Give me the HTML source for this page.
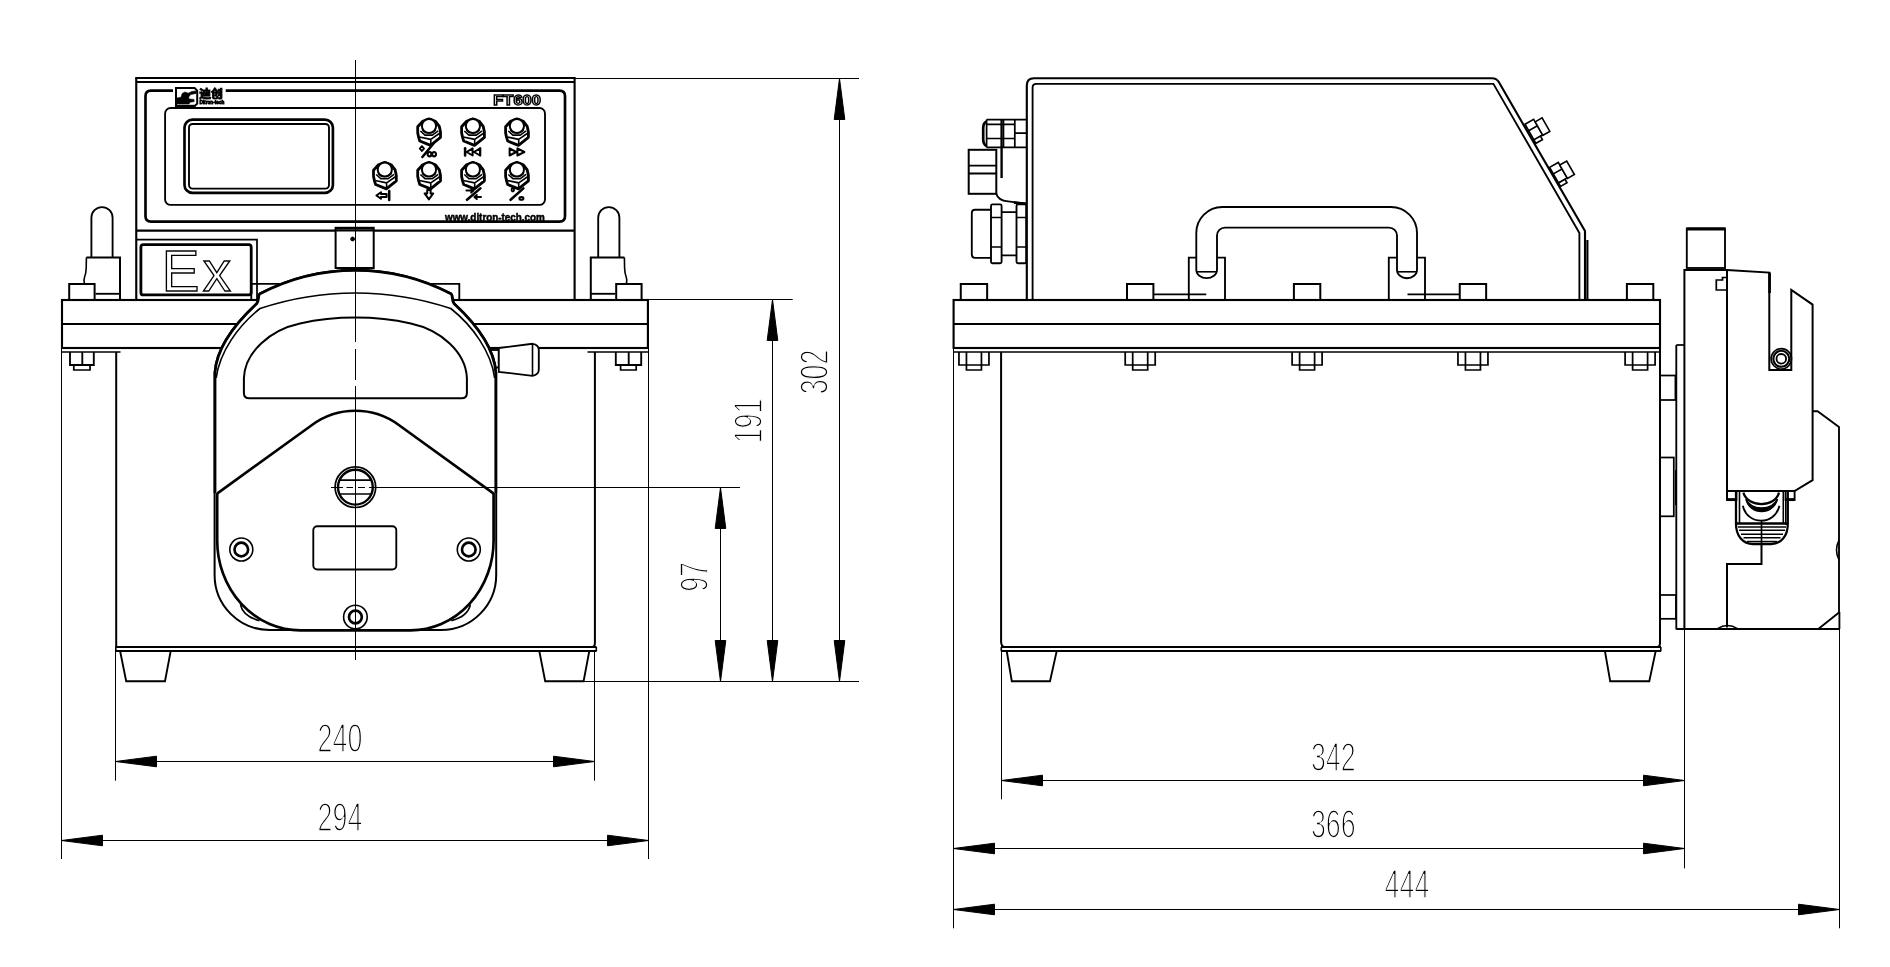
<!DOCTYPE html>
<html lang="zh">
<head>
<meta charset="utf-8">
<title>FT600 防爆蠕动泵 外形尺寸图</title>
<style>
html,body{margin:0;padding:0;background:#fff;}
body{width:1890px;height:967px;overflow:hidden;}
svg{display:block;filter:grayscale(1);}
svg{background:#fff;}
svg *{stroke:#000;}
text{stroke:none;fill:#000;font-family:"Liberation Sans",sans-serif;}
text.dim{font-size:40px;fill:#000;stroke:#fff;stroke-width:1.7px;paint-order:normal;}
text.cjk{font-family:"Liberation Sans","Noto Sans CJK SC",sans-serif;font-weight:bold;font-size:11px;stroke:#000;stroke-width:0.9px;}
text.tiny{font-weight:bold;font-size:5.8px;stroke:#000;stroke-width:0.8px;}
text.model{font-weight:bold;font-size:14px;fill:#fff;stroke:#000;stroke-width:1.3px;}
text.url{font-weight:bold;font-size:10px;stroke:#000;stroke-width:0.5px;}
text.ex{font-size:56.5px;fill:#fff;stroke:#000;stroke-width:1.35px;}
</style>
</head>
<body>
<svg width="1890" height="967" viewBox="0 0 1890 967">
<line x1="136.25" y1="77.5" x2="136.25" y2="299.5" stroke-width="2.13"/>
<line x1="574.6" y1="77.5" x2="574.6" y2="299.5" stroke-width="2.13"/>
<line x1="135.3" y1="78" x2="575.5" y2="78" stroke-width="2.0"/>
<line x1="136" y1="82" x2="575" y2="82" stroke-width="2.0"/>
<line x1="136" y1="230.6" x2="575" y2="230.6" stroke-width="2.13"/>
<path d="M173,90.6 L151,90.6 Q145.5,90.6 145.5,96 L145.5,216.2 Q145.5,221.6 151,221.6 L559.5,221.6 Q565,221.6 565,216.2 L565,96 Q565,90.6 559.5,90.6 L225.7,90.6" stroke-width="2.66" fill="none"/>
<rect x="165.1" y="108" width="379.9" height="96.9" rx="5.5" ry="5.5" stroke-width="1.86" fill="none"/>
<rect x="184.5" y="119.6" width="148.4" height="73.3" rx="8" ry="8" stroke-width="2.66" fill="none"/>
<rect x="189" y="124" width="140" height="64.6" rx="3.5" ry="3.5" stroke-width="1.86" fill="none"/>
<path d="M176,106 L176,88 L194.6,88 L197.2,90.6 L197.2,103.6 L194.8,106 Z" stroke-width="2.0" fill="none"/>
<path d="M177,104 L177,98 L181,97.2 L182.2,93.4 L185,92 L188.2,93.2 L192,91.4 L196.2,91 L196.2,93.4 L190.6,94.6 L188.6,97.2 L189.2,99 L194,99.4 L194.2,101.6 L190,102.2 L189,104 Z" stroke-width="0.6" fill="#000"/>
<line x1="176.8" y1="106" x2="195" y2="106" stroke-width="2.39"/>
<text x="199.2" y="97.6" class="cjk" textLength="23.6" lengthAdjust="spacingAndGlyphs">迪创</text>
<text x="199.4" y="104.4" class="tiny" textLength="25" lengthAdjust="spacingAndGlyphs">Ditron-tech</text>
<text x="493.3" y="104.9" class="model" textLength="47.6" lengthAdjust="spacingAndGlyphs">FT600</text>
<text x="445" y="220.6" class="url" textLength="99.8" lengthAdjust="spacingAndGlyphs">www.ditron-tech.com</text>
<g transform="translate(429,118.4)" stroke-linejoin="round">
<path d="M0,0.4 L-6.3,2.8 L-11.3,8.4 L-11.3,14.5 L-10.2,19.5 L-9.2,22.6 L1.6,27 L11.5,19 L11.5,13.5 L10.3,8 L6.3,2.8 Z" stroke-width="2.79" fill="#fff"/>
<path d="M-9.6,18.6 L1.8,21 L11,14.6 M1.8,21 L1.8,27" stroke-width="1.6" fill="none"/>
<path d="M-8.6,12.6 L-4,16.7 L3.4,16.7 L9.2,12.4" stroke-width="1.6" fill="none"/>
<path d="M-6.6,11.6 L-3.4,14.1 L2.9,14.1 L6.8,11.4" stroke-width="1.73" fill="none"/>
<circle cx="0" cy="7.6" r="7.1" stroke-width="2.0" fill="#fff"/>
</g>
<g transform="translate(472.9,118.4)" stroke-linejoin="round">
<path d="M0,0.4 L-6.3,2.8 L-11.3,8.4 L-11.3,14.5 L-10.2,19.5 L-9.2,22.6 L1.6,27 L11.5,19 L11.5,13.5 L10.3,8 L6.3,2.8 Z" stroke-width="2.79" fill="#fff"/>
<path d="M-9.6,18.6 L1.8,21 L11,14.6 M1.8,21 L1.8,27" stroke-width="1.6" fill="none"/>
<path d="M-8.6,12.6 L-4,16.7 L3.4,16.7 L9.2,12.4" stroke-width="1.6" fill="none"/>
<path d="M-6.6,11.6 L-3.4,14.1 L2.9,14.1 L6.8,11.4" stroke-width="1.73" fill="none"/>
<circle cx="0" cy="7.6" r="7.1" stroke-width="2.0" fill="#fff"/>
</g>
<g transform="translate(516.9,118.4)" stroke-linejoin="round">
<path d="M0,0.4 L-6.3,2.8 L-11.3,8.4 L-11.3,14.5 L-10.2,19.5 L-9.2,22.6 L1.6,27 L11.5,19 L11.5,13.5 L10.3,8 L6.3,2.8 Z" stroke-width="2.79" fill="#fff"/>
<path d="M-9.6,18.6 L1.8,21 L11,14.6 M1.8,21 L1.8,27" stroke-width="1.6" fill="none"/>
<path d="M-8.6,12.6 L-4,16.7 L3.4,16.7 L9.2,12.4" stroke-width="1.6" fill="none"/>
<path d="M-6.6,11.6 L-3.4,14.1 L2.9,14.1 L6.8,11.4" stroke-width="1.73" fill="none"/>
<circle cx="0" cy="7.6" r="7.1" stroke-width="2.0" fill="#fff"/>
</g>
<g transform="translate(384.8,161.9)" stroke-linejoin="round">
<path d="M0,0.4 L-6.3,2.8 L-11.3,8.4 L-11.3,14.5 L-10.2,19.5 L-9.2,22.6 L1.6,27 L11.5,19 L11.5,13.5 L10.3,8 L6.3,2.8 Z" stroke-width="2.79" fill="#fff"/>
<path d="M-9.6,18.6 L1.8,21 L11,14.6 M1.8,21 L1.8,27" stroke-width="1.6" fill="none"/>
<path d="M-8.6,12.6 L-4,16.7 L3.4,16.7 L9.2,12.4" stroke-width="1.6" fill="none"/>
<path d="M-6.6,11.6 L-3.4,14.1 L2.9,14.1 L6.8,11.4" stroke-width="1.73" fill="none"/>
<circle cx="0" cy="7.6" r="7.1" stroke-width="2.0" fill="#fff"/>
</g>
<g transform="translate(429,161.9)" stroke-linejoin="round">
<path d="M0,0.4 L-6.3,2.8 L-11.3,8.4 L-11.3,14.5 L-10.2,19.5 L-9.2,22.6 L1.6,27 L11.5,19 L11.5,13.5 L10.3,8 L6.3,2.8 Z" stroke-width="2.79" fill="#fff"/>
<path d="M-9.6,18.6 L1.8,21 L11,14.6 M1.8,21 L1.8,27" stroke-width="1.6" fill="none"/>
<path d="M-8.6,12.6 L-4,16.7 L3.4,16.7 L9.2,12.4" stroke-width="1.6" fill="none"/>
<path d="M-6.6,11.6 L-3.4,14.1 L2.9,14.1 L6.8,11.4" stroke-width="1.73" fill="none"/>
<circle cx="0" cy="7.6" r="7.1" stroke-width="2.0" fill="#fff"/>
</g>
<g transform="translate(472.9,161.9)" stroke-linejoin="round">
<path d="M0,0.4 L-6.3,2.8 L-11.3,8.4 L-11.3,14.5 L-10.2,19.5 L-9.2,22.6 L1.6,27 L11.5,19 L11.5,13.5 L10.3,8 L6.3,2.8 Z" stroke-width="2.79" fill="#fff"/>
<path d="M-9.6,18.6 L1.8,21 L11,14.6 M1.8,21 L1.8,27" stroke-width="1.6" fill="none"/>
<path d="M-8.6,12.6 L-4,16.7 L3.4,16.7 L9.2,12.4" stroke-width="1.6" fill="none"/>
<path d="M-6.6,11.6 L-3.4,14.1 L2.9,14.1 L6.8,11.4" stroke-width="1.73" fill="none"/>
<circle cx="0" cy="7.6" r="7.1" stroke-width="2.0" fill="#fff"/>
</g>
<g transform="translate(516.9,161.9)" stroke-linejoin="round">
<path d="M0,0.4 L-6.3,2.8 L-11.3,8.4 L-11.3,14.5 L-10.2,19.5 L-9.2,22.6 L1.6,27 L11.5,19 L11.5,13.5 L10.3,8 L6.3,2.8 Z" stroke-width="2.79" fill="#fff"/>
<path d="M-9.6,18.6 L1.8,21 L11,14.6 M1.8,21 L1.8,27" stroke-width="1.6" fill="none"/>
<path d="M-8.6,12.6 L-4,16.7 L3.4,16.7 L9.2,12.4" stroke-width="1.6" fill="none"/>
<path d="M-6.6,11.6 L-3.4,14.1 L2.9,14.1 L6.8,11.4" stroke-width="1.73" fill="none"/>
<circle cx="0" cy="7.6" r="7.1" stroke-width="2.0" fill="#fff"/>
</g>
<g stroke-linecap="round" stroke-linejoin="round">
<path d="M433.3,143.8 L422.4,157" stroke-width="2.53" fill="none"/>
<path d="M421.9,146.2 L424,148.6 L421.9,151 L419.8,148.6 Z" stroke-width="1.86" fill="none"/>
<path d="M427.6,154.2 a1.9,2.2 0 1 0 3.8,0 a1.9,2.2 0 1 0 -3.8,0 M432.2,154.2 a1.9,2.2 0 1 0 3.8,0 a1.9,2.2 0 1 0 -3.8,0" stroke-width="2.13" fill="none"/>
<path d="M465.1,148.3 L465.1,155.6" stroke-width="2.53" fill="none"/>
<path d="M472.6,148.4 L472.6,155.5 L466.6,152 Z M480,148.4 L480,155.5 L474,152 Z" stroke-width="2.0" fill="none"/>
<path d="M480.3,148.3 L480.3,155.6" stroke-width="2.0" fill="none"/>
<path d="M509.6,148.4 L509.6,155.5 L516.2,152 Z M517.4,148.4 L517.4,155.5 L524.4,152 Z" stroke-width="2.0" fill="none"/>
<path d="M389.2,191 L389.2,200" stroke-width="2.53" fill="none"/>
<path d="M376.4,195.5 L381,192.2 L381,194 L386.6,194 L386.6,197 L381,197 L381,198.8 Z" stroke-width="2.0" fill="none"/>
<path d="M427.2,190 L430.6,190 L430.6,193.4 L433.2,193.4 L428.9,199.4 L424.6,193.4 L427.2,193.4 Z" stroke-width="2.0" fill="none"/>
<path d="M480.4,188.4 L467,199.8" stroke-width="2.53" fill="none"/>
<path d="M466.4,190.6 L473.4,190.6 M471.2,188.6 L473.6,190.6 L471.2,192.6" stroke-width="2.0" fill="none"/>
<path d="M481,197 L474.6,197 M476.8,195 L474.4,197 L476.8,199" stroke-width="2.0" fill="none"/>
<path d="M523.4,188.4 L510.6,199.8" stroke-width="2.53" fill="none"/>
<path d="M511.6,189.8 a1.2,1.6 0 1 0 2.4,0 a1.2,1.6 0 1 0 -2.4,0" stroke-width="1.86" fill="none"/>
<path d="M519.4,198.4 a2,1.4 0 1 0 4,0 a2,1.4 0 1 0 -4,0" stroke-width="2.0" fill="none"/>
</g>
<path d="M136.5,239.6 L257,239.6 L257,299.5" stroke-width="1.73" fill="none"/>
<rect x="140.9" y="244.7" width="110.3" height="50.2" rx="2.5" ry="2.5" stroke-width="2.79" fill="none"/>
<text class="ex" x="161.8 202.8" y="290.8">Ex</text>
<rect x="335.6" y="227.8" width="38.1" height="40.2" stroke-width="2.0" fill="#fff"/>
<line x1="335.6" y1="230.6" x2="373.7" y2="230.6" stroke-width="1.86"/>
<line x1="336" y1="228.4" x2="373.4" y2="228.4" stroke-width="2.66"/>
<circle cx="352.6" cy="239" r="1.9" stroke-width="1" fill="#000"/>
<path d="M91.4,257.5 L91.4,217.7 A10.6 10.6 0 0 1 112.6,217.7 L112.6,257.5" stroke-width="1.86" fill="none"/>
<path d="M86.4,257.6 L120.0,257.6 L120.0,299.5" stroke-width="2.0" fill="none"/>
<path d="M86.4,257.6 L86.2,268 Q86.0,274 84.6,277 Q83.4,280 84.4,283.8" stroke-width="1.6" fill="none"/>
<line x1="95.5" y1="293.8" x2="120.0" y2="293.8" stroke-width="1.86"/>
<path d="M69.2,299.5 L69.2,284 L94.6,284 L94.6,299.5" stroke-width="2.0" fill="none"/>
<path d="M619.4,257.5 L619.4,217.7 A10.6 10.6 0 0 0 598.2,217.7 L598.2,257.5" stroke-width="1.86" fill="none"/>
<path d="M624.4,257.6 L590.8,257.6 L590.8,299.5" stroke-width="2.0" fill="none"/>
<path d="M624.4,257.6 L624.6,268 Q624.8,274 626.2,277 Q627.4,280 626.4,283.8" stroke-width="1.6" fill="none"/>
<line x1="615.3" y1="293.8" x2="590.8" y2="293.8" stroke-width="1.86"/>
<path d="M641.6,299.5 L641.6,284 L616.2,284 L616.2,299.5" stroke-width="2.0" fill="none"/>
<rect x="62" y="300" width="585.9" height="48" stroke-width="2.13" fill="none"/>
<line x1="62" y1="324" x2="647.9" y2="324" stroke-width="2.0"/>
<line x1="62" y1="352" x2="120.5" y2="352" stroke-width="1.73"/>
<line x1="587.5" y1="352" x2="648" y2="352" stroke-width="1.73"/>
<path d="M116.2,352 L116.2,647" stroke-width="2.0" fill="none"/>
<path d="M594.9,352 L594.9,643 Q594.9,647 592,647" stroke-width="2.0" fill="none"/>
<line x1="115.5" y1="647.1" x2="596.5" y2="647.1" stroke-width="2.0"/>
<line x1="115.5" y1="651" x2="596.5" y2="651" stroke-width="2.0"/>
<path d="M115.8,647 L115.8,651.2 M596.3,647 L596.3,651.2" stroke-width="1.6" fill="none"/>
<line x1="61.5" y1="299.5" x2="61.5" y2="859" stroke-width="1"/>
<line x1="648.5" y1="299.5" x2="648.5" y2="859" stroke-width="1"/>
<path d="M70,352 L70,365 L93.8,365 L93.8,352 M82.3,352 L82.3,365" stroke-width="1.86" fill="none"/>
<path d="M73.8,365 L73.8,370 L90,370 L90,365" stroke-width="1.73" fill="none"/>
<path d="M615.8,352 L615.8,365 L641.2,365 L641.2,352 M628.7,352 L628.7,365" stroke-width="1.86" fill="none"/>
<path d="M620.6,365 L620.6,370 L636.2,370 L636.2,365" stroke-width="1.73" fill="none"/>
<path d="M120.2,651.5 L126.2,681.2 L165,681.2 L170.6,651.5" stroke-width="1.86" fill="none"/>
<path d="M539.4,651.5 L545.2,681.2 L583.6,681.2 L589.2,651.5" stroke-width="1.86" fill="none"/>
<path d="M251.3,299.5 L251.3,283.9 L459.3,283.9 L459.3,299.5" stroke-width="1.86" fill="none"/>
<rect x="488" y="350" width="10.8" height="17.5" stroke-width="1.86" fill="none"/>
<path d="M214.6,575 L214.6,372.5 C216,352 228,330 256.3,303.8 C259.5,300 257,296 259.6,293.6 A206 206 0 0 1 451.2,293.6 C453.8,296 451.3,300 454.5,303.8 C482.8,330 494.8,352 496.2,372.5 L496.2,575 A55 55 0 0 1 441.2,630 L269.6,630 A55 55 0 0 1 214.6,575 Z" stroke-width="2.0" fill="#fff"/>
<path d="M215.0,493 L215.0,372.5 C216.4,352 228.4,330 256.6,303.8 C259.8,300 257.3,296 259.9,293.8 A206 206 0 0 1 450.9,293.8 C453.5,296 451.0,300 454.2,303.8 C482.4,330 494.4,352 495.8,372.5 L495.8,493" stroke-width="2.79" fill="none"/>
<path d="M217.2,493 L217.2,540 A83 90 0 0 0 300.2,630.4 L410.6,630.4 A83 90 0 0 0 493.6,540 L493.6,493" stroke-width="2.66" fill="none"/>
<path d="M240.4,604.5 Q243,616.5 259.5,620.6" stroke-width="1.6" fill="none"/>
<path d="M470.4,604.5 Q467.8,616.5 451.3,620.6" stroke-width="1.6" fill="none"/>
<path d="M216.2,378 C219.5,352 238,326 260,308.5 A300 300 0 0 1 450.8,308.5 C472.8,326 491.3,352 494.6,378" stroke-width="1.6" fill="none"/>
<path d="M243.9,393 L243.9,378 C245,352 270,330 300,323.5 C320,319 340,317.6 355.4,317.6 C370.8,317.6 390.8,319 410.8,323.5 C440.8,330 465.8,352 466.9,378 L466.9,393 Q466.9,398.3 461.59999999999997,398.3 L249.20000000000002,398.3 Q243.9,398.3 243.9,393 Z" stroke-width="2.0" fill="none"/>
<path d="M217.4,493.3 L312,425 A73.4 73.4 0 0 1 398.8,425 L493.4,493.3" stroke-width="2.66" fill="none"/>
<path d="M498.8,348 L532.5,343.8 Q538.8,344.6 538.8,350 L538.8,369.6 Q538.8,375 532.5,375.8 L498.8,371.8 Z" stroke-width="1.86" fill="#fff"/>
<line x1="532.5" y1="343.8" x2="532.5" y2="375.8" stroke-width="1.6"/>
<circle cx="355.4" cy="487.2" r="20.3" stroke-width="1.73" fill="#fff"/>
<circle cx="355.4" cy="487.2" r="17.4" stroke-width="2.39" fill="none"/>
<line x1="339.6" y1="480.2" x2="371.2" y2="480.2" stroke-width="1.73"/>
<line x1="339.6" y1="494" x2="371.2" y2="494" stroke-width="1.73"/>
<rect x="313.3" y="526.3" width="83.0" height="43.2" rx="4" ry="4" stroke-width="1.86" fill="none"/>
<circle cx="241.3" cy="549.5" r="11.5" stroke-width="1.6" fill="#fff"/>
<circle cx="241.3" cy="549.5" r="6.8" stroke-width="2.66" fill="none"/>
<circle cx="468.8" cy="549.5" r="11.5" stroke-width="1.6" fill="#fff"/>
<circle cx="468.8" cy="549.5" r="6.8" stroke-width="2.66" fill="none"/>
<circle cx="355.4" cy="617" r="11.8" stroke-width="1.6" fill="#fff"/>
<circle cx="355.4" cy="617" r="6.4" stroke-width="2.66" fill="none"/>
<line x1="355.5" y1="60" x2="355.5" y2="342" stroke-width="1"/>
<line x1="355.5" y1="349" x2="355.5" y2="380" stroke-width="1"/>
<line x1="355.5" y1="386" x2="355.5" y2="660" stroke-width="1"/>
<line x1="331" y1="487.5" x2="343" y2="487.5" stroke-width="1"/>
<line x1="346.5" y1="487.5" x2="353" y2="487.5" stroke-width="1"/>
<line x1="358" y1="487.5" x2="365" y2="487.5" stroke-width="1"/>
<line x1="369" y1="487.5" x2="740" y2="487.5" stroke-width="1"/>
<line x1="575" y1="78.5" x2="859" y2="78.5" stroke-width="1"/>
<line x1="648" y1="299.5" x2="792.7" y2="299.5" stroke-width="1"/>
<line x1="545" y1="681.5" x2="859" y2="681.5" stroke-width="1"/>
<line x1="720.5" y1="487.5" x2="720.5" y2="681.5" stroke-width="1"/>
<polygon points="720.5,487.5 715.2,528.5 725.8,528.5" fill="#000" stroke="none"/>
<polygon points="720.5,681.5 715.2,640.5 725.8,640.5" fill="#000" stroke="none"/>
<line x1="772.5" y1="299.5" x2="772.5" y2="681.5" stroke-width="1"/>
<polygon points="772.5,299.5 767.2,340.5 777.8,340.5" fill="#000" stroke="none"/>
<polygon points="772.5,681.5 767.2,640.5 777.8,640.5" fill="#000" stroke="none"/>
<line x1="839.5" y1="78.5" x2="839.5" y2="681.5" stroke-width="1"/>
<polygon points="839.5,78.5 834.2,119.5 844.8,119.5" fill="#000" stroke="none"/>
<polygon points="839.5,681.5 834.2,640.5 844.8,640.5" fill="#000" stroke="none"/>
<line x1="115.5" y1="651" x2="115.5" y2="780.7" stroke-width="1"/>
<line x1="594.5" y1="651" x2="594.5" y2="780.7" stroke-width="1"/>
<line x1="115.5" y1="761.5" x2="594.5" y2="761.5" stroke-width="1"/>
<polygon points="115.5,761.5 156.5,756.2 156.5,766.8" fill="#000" stroke="none"/>
<polygon points="594.5,761.5 553.5,756.2 553.5,766.8" fill="#000" stroke="none"/>
<line x1="61.5" y1="840.5" x2="648.5" y2="840.5" stroke-width="1"/>
<polygon points="61.5,840.5 102.5,835.2 102.5,845.8" fill="#000" stroke="none"/>
<polygon points="648.5,840.5 607.5,835.2 607.5,845.8" fill="#000" stroke="none"/>
<text transform="translate(340,751.7) scale(0.672,1)" class="dim" text-anchor="middle">240</text>
<text transform="translate(340,830.7) scale(0.672,1)" class="dim" text-anchor="middle">294</text>
<text transform="translate(761.7,420.9) rotate(-90) scale(0.672,1)" class="dim" text-anchor="middle">191</text>
<text transform="translate(827.7,371.9) rotate(-90) scale(0.672,1)" class="dim" text-anchor="middle">302</text>
<text transform="translate(708.3,576.9) rotate(-90) scale(0.672,1)" class="dim" text-anchor="middle">97</text>
<rect x="953.6" y="300" width="706.4" height="48" stroke-width="2.13" fill="none"/>
<line x1="953.6" y1="324" x2="1660" y2="324" stroke-width="2.0"/>
<line x1="953.6" y1="352" x2="1660" y2="352" stroke-width="1.73"/>
<path d="M1001.1,352 L1001.1,642 Q1001.3,646.5 1004.5,647" stroke-width="2.0" fill="none"/>
<path d="M1660,348 L1660,643 Q1660,647 1657,647" stroke-width="2.0" fill="none"/>
<line x1="1001" y1="647.1" x2="1661" y2="647.1" stroke-width="2.0"/>
<line x1="1001" y1="651" x2="1661" y2="651" stroke-width="2.0"/>
<path d="M1001.3,647 L1001.3,651.2 M1660.8,647 L1660.8,651.2" stroke-width="1.6" fill="none"/>
<path d="M1006.8,651.5 L1011.8,681.2 L1050,681.2 L1056.6,651.5" stroke-width="1.86" fill="none"/>
<path d="M1605,651.5 L1610.2,681.2 L1649.3,681.2 L1655.6,651.5" stroke-width="1.86" fill="none"/>
<path d="M960.75,299.5 L960.75,284 L987.15,284 L987.15,299.5" stroke-width="2.0" fill="none"/>
<path d="M958.95,352 L958.95,365 L988.95,365 L988.95,352 M966.45,352 L966.45,370 L981.45,370 L981.45,352" stroke-width="1.73" fill="none"/>
<path d="M1127,299.5 L1127,284 L1153.4,284 L1153.4,299.5" stroke-width="2.0" fill="none"/>
<path d="M1125.2,352 L1125.2,365 L1155.2,365 L1155.2,352 M1132.7,352 L1132.7,370 L1147.7,370 L1147.7,352" stroke-width="1.73" fill="none"/>
<path d="M1293.9,299.5 L1293.9,284 L1320.3000000000002,284 L1320.3000000000002,299.5" stroke-width="2.0" fill="none"/>
<path d="M1292.1000000000001,352 L1292.1000000000001,365 L1322.1000000000001,365 L1322.1000000000001,352 M1299.6000000000001,352 L1299.6000000000001,370 L1314.6000000000001,370 L1314.6000000000001,352" stroke-width="1.73" fill="none"/>
<path d="M1459.75,299.5 L1459.75,284 L1486.15,284 L1486.15,299.5" stroke-width="2.0" fill="none"/>
<path d="M1457.95,352 L1457.95,365 L1487.95,365 L1487.95,352 M1465.45,352 L1465.45,370 L1480.45,370 L1480.45,352" stroke-width="1.73" fill="none"/>
<path d="M1626.9,299.5 L1626.9,284 L1653.3000000000002,284 L1653.3000000000002,299.5" stroke-width="2.0" fill="none"/>
<path d="M1625.1000000000001,352 L1625.1000000000001,365 L1655.1000000000001,365 L1655.1000000000001,352 M1632.6000000000001,352 L1632.6000000000001,370 L1647.6000000000001,370 L1647.6000000000001,352" stroke-width="1.73" fill="none"/>
<path d="M1026.8,299.5 L1026.8,85.5 Q1026.8,78.2 1034,78.2 L1492,78.2 Q1496.5,78.2 1498.8,82 L1585,231 L1585,299.5" stroke-width="2.13" fill="none"/>
<path d="M1032.6,299.5 L1032.6,87.5 Q1032.6,83.9 1036.2,83.9 L1493.4,83.9 L1579.4,233 L1579.4,299.5" stroke-width="1.86" fill="none"/>
<line x1="1587.4" y1="240" x2="1587.4" y2="299.5" stroke-width="2.13"/>
<path d="M1525.0,124.2 L1533.68,119.24 L1542.61,134.86 L1533.93,139.82 Z" stroke-width="1.6" fill="#fff"/>
<path d="M1528.72,130.71 L1537.4,125.75" stroke-width="1.6" fill="none"/>
<path d="M1533.93,139.82 L1540.44,136.1 L1542.42,139.58 L1535.91,143.3 Z" stroke-width="1.6" fill="#fff"/>
<path d="M1535.17,121.84 L1542.11,117.88 L1549.8,131.33 L1542.86,135.3 Z" stroke-width="1.6" fill="#fff"/>
<path d="M1549.6,167.4 L1558.28,162.44 L1567.21,178.06 L1558.53,183.02 Z" stroke-width="1.6" fill="#fff"/>
<path d="M1553.32,173.91 L1562.0,168.95" stroke-width="1.6" fill="none"/>
<path d="M1558.53,183.02 L1565.04,179.3 L1567.02,182.78 L1560.51,186.5 Z" stroke-width="1.6" fill="#fff"/>
<path d="M1559.77,165.04 L1566.71,161.08 L1574.4,174.53 L1567.46,178.5 Z" stroke-width="1.6" fill="#fff"/>
<path d="M1188.8,299.5 L1188.8,257.6 L1196.3,257.6 M1217,257.6 L1225,257.6 L1225,299.5" stroke-width="1.86" fill="none"/>
<path d="M1388.8,299.5 L1388.8,257.6 L1397,257.6 M1417,257.6 L1425,257.6 L1425,299.5" stroke-width="1.86" fill="none"/>
<line x1="1153.4" y1="294.3" x2="1206.3" y2="294.3" stroke-width="1.73"/>
<line x1="1407.5" y1="294.3" x2="1459.6" y2="294.3" stroke-width="1.73"/>
<path d="M1196.3,270 L1196.3,233 A26 26 0 0 1 1222.3,207 L1391,207 A26 26 0 0 1 1417,233 L1417,270 A10 8.2 0 0 1 1397,270 L1397,235.6 A8 8 0 0 0 1389,227.6 L1225,227.6 A8 8 0 0 0 1217,235.6 L1217,270 A10.35 8.2 0 0 1 1196.3,270 Z" stroke-width="1.86" fill="none"/>
<line x1="1196.8" y1="271.8" x2="1216.5" y2="271.8" stroke-width="1.6"/>
<line x1="1397.5" y1="271.8" x2="1416.5" y2="271.8" stroke-width="1.6"/>
<path d="M986.6,119.6 L1026.2,119.6 M986.6,147.4 L1026.2,147.4 M986.6,119.6 L986.6,147.4" stroke-width="1.73" fill="none"/>
<path d="M986.6,121.5 Q983.2,123 983.2,128 L983.2,139 Q983.2,144.5 986.6,146" stroke-width="2.66" fill="none"/>
<path d="M986.6,124.4 L1014.8,124.4 M986.6,138.5 L1014.8,138.5 M1014.8,119.6 L1014.8,147.4 M1014.8,133.2 L1026.2,133.2" stroke-width="1.73" fill="none"/>
<line x1="1001.6" y1="119.4" x2="1001.6" y2="178" stroke-width="2.39"/>
<line x1="1003.6" y1="119.4" x2="1003.6" y2="147.4" stroke-width="1.46"/>
<rect x="968.7" y="149.8" width="27.6" height="44.0" stroke-width="2.0" fill="none"/>
<path d="M968.7,165.6 L996.3,165.6 M968.7,173.5 L996.3,173.5" stroke-width="1.86" fill="none"/>
<path d="M996.3,193.8 Q998,200.5 1008,201.4 L1026.2,203.6" stroke-width="1.86" fill="none"/>
<line x1="1014" y1="202.6" x2="1026.2" y2="203.8" stroke-width="2.66"/>
<path d="M991,209.7 L975,209.7 Q971.8,209.7 971.8,213 L971.8,254.6 Q971.8,257.9 975,257.9 L991,257.9" stroke-width="1.86" fill="none"/>
<rect x="991" y="204.4" width="10.6" height="58.8" rx="1.5" ry="1.5" stroke-width="1.86" fill="none"/>
<rect x="1016.5" y="204.4" width="9.7" height="58.8" rx="1.5" ry="1.5" stroke-width="1.86" fill="none"/>
<path d="M991,217.5 L1001.6,217.5 M991,247 L1001.6,247 M1016.5,217.5 L1026.2,217.5 M1016.5,247 L1026.2,247" stroke-width="1.73" fill="none"/>
<path d="M1001.6,212.2 L1016.5,212.2 M1001.6,255.3 L1016.5,255.3" stroke-width="1.73" fill="none"/>
<line x1="1676.3" y1="345" x2="1676.3" y2="629.4" stroke-width="1.86"/>
<line x1="1676.3" y1="345" x2="1684.4" y2="345" stroke-width="1.73"/>
<rect x="1660" y="375.5" width="15.4" height="24.5" stroke-width="1.73" fill="none"/>
<rect x="1660" y="457.5" width="13.8" height="58.8" stroke-width="1.73" fill="none"/>
<line x1="1675.5" y1="470" x2="1675.5" y2="505" stroke-width="1"/>
<rect x="1660" y="595" width="16" height="23.8" stroke-width="1.73" fill="none"/>
<rect x="1686.8" y="228.4" width="38.2" height="39.6" stroke-width="1.86" fill="none"/>
<line x1="1687" y1="229" x2="1724.8" y2="229" stroke-width="3.19"/>
<path d="M1684.4,628.8 L1684.4,270 L1727,270 L1727,500" stroke-width="2.0" fill="none"/>
<path d="M1727,277.5 L1722.5,277.5 L1722.5,280 L1716.3,280 L1716.3,290 L1727,290" stroke-width="1.73" fill="none"/>
<path d="M1727,270 L1769.3,272.6 L1769.3,370 L1791.3,370 L1791.3,290 L1812.6,304.6 L1812.6,480.2 L1794.6,491 L1727,491" stroke-width="2.0" fill="none"/>
<line x1="1769.6" y1="272.6" x2="1769.6" y2="293" stroke-width="2.66"/>
<path d="M1812.6,411.3 L1817.6,411.3 L1839,427 L1839,612.6 L1818.6,628.8" stroke-width="1.86" fill="none"/>
<line x1="1676.3" y1="628.9" x2="1839.6" y2="628.9" stroke-width="2.0"/>
<line x1="1839.4" y1="612" x2="1839.4" y2="629" stroke-width="1.86"/>
<path d="M1839,540 Q1834,550 1839,560" stroke-width="1.6" fill="none"/>
<path d="M1717.5,628.6 Q1727.5,622.5 1737.5,628.6" stroke-width="1.6" fill="none"/>
<circle cx="1781.3" cy="358.8" r="10.2" stroke-width="1.6" fill="none"/>
<circle cx="1781.3" cy="358.8" r="8" stroke-width="2.13" fill="none"/>
<circle cx="1781.3" cy="358.8" r="4.8" stroke-width="1.86" fill="none"/>
<rect x="1727" y="491" width="9.4" height="9" stroke-width="1.86" fill="none"/>
<line x1="1727" y1="499.6" x2="1736.4" y2="499.6" stroke-width="2.93"/>
<rect x="1785.6" y="491" width="9.0" height="9" stroke-width="1.86" fill="none"/>
<line x1="1785.6" y1="499.6" x2="1794.6" y2="499.6" stroke-width="2.93"/>
<path d="M1736,491 L1736,524 C1736,536 1743,544 1753,544 L1771,544 C1781,544 1787.8,536 1787.8,524 L1787.8,491" stroke-width="2.26" fill="none"/>
<path d="M1739.5,491 L1739.5,523.5 M1783.3,491 L1783.3,523.5 M1785.8,500 L1785.8,525" stroke-width="1.6" fill="none"/>
<line x1="1737" y1="523.5" x2="1787" y2="523.5" stroke-width="2.39"/>
<line x1="1738" y1="526.9" x2="1786" y2="526.9" stroke-width="1.46"/>
<line x1="1739" y1="530.3" x2="1785" y2="530.3" stroke-width="1.46"/>
<line x1="1741" y1="534.3" x2="1783" y2="534.3" stroke-width="1.46"/>
<line x1="1743.5" y1="537.7" x2="1780.5" y2="537.7" stroke-width="1.46"/>
<line x1="1747" y1="541.5" x2="1777" y2="541.5" stroke-width="1.46"/>
<path d="M1743.4,492.6 C1748,508 1775,508 1779,492.6" stroke-width="2.26" fill="none"/>
<path d="M1746,499 C1750,515.5 1773,515.5 1777.4,499 C1772,511 1751,511 1746,499 Z" stroke-width="1.73" fill="#000"/>
<path d="M1742.9,505.8 C1747,525.5 1775,525.5 1779.4,505.8" stroke-width="1.86" fill="none"/>
<line x1="1761.5" y1="520.6" x2="1761.5" y2="544" stroke-width="1.6"/>
<path d="M1761.5,544 L1761.5,563.9 L1727,563.9 L1727,627.6" stroke-width="2.0" fill="none"/>
<line x1="953.5" y1="299.5" x2="953.5" y2="928.3" stroke-width="1"/>
<line x1="1001.5" y1="651" x2="1001.5" y2="799.3" stroke-width="1"/>
<line x1="1684.5" y1="628.8" x2="1684.5" y2="868.3" stroke-width="1"/>
<line x1="1839.5" y1="628.8" x2="1839.5" y2="928.3" stroke-width="1"/>
<line x1="1001.5" y1="780.5" x2="1684.5" y2="780.5" stroke-width="1"/>
<polygon points="1001.5,780.5 1042.5,775.2 1042.5,785.8" fill="#000" stroke="none"/>
<polygon points="1684.5,780.5 1643.5,775.2 1643.5,785.8" fill="#000" stroke="none"/>
<line x1="953.5" y1="848.5" x2="1684.5" y2="848.5" stroke-width="1"/>
<polygon points="953.5,848.5 994.5,843.2 994.5,853.8" fill="#000" stroke="none"/>
<polygon points="1684.5,848.5 1643.5,843.2 1643.5,853.8" fill="#000" stroke="none"/>
<line x1="953.5" y1="909.5" x2="1839.5" y2="909.5" stroke-width="1"/>
<polygon points="953.5,909.5 994.5,904.2 994.5,914.8" fill="#000" stroke="none"/>
<polygon points="1839.5,909.5 1798.5,904.2 1798.5,914.8" fill="#000" stroke="none"/>
<text transform="translate(1333.3,770.7) scale(0.672,1)" class="dim" text-anchor="middle">342</text>
<text transform="translate(1333.3,838.3) scale(0.672,1)" class="dim" text-anchor="middle">366</text>
<text transform="translate(1407,898.3) scale(0.672,1)" class="dim" text-anchor="middle">444</text>
</svg>
</body>
</html>
